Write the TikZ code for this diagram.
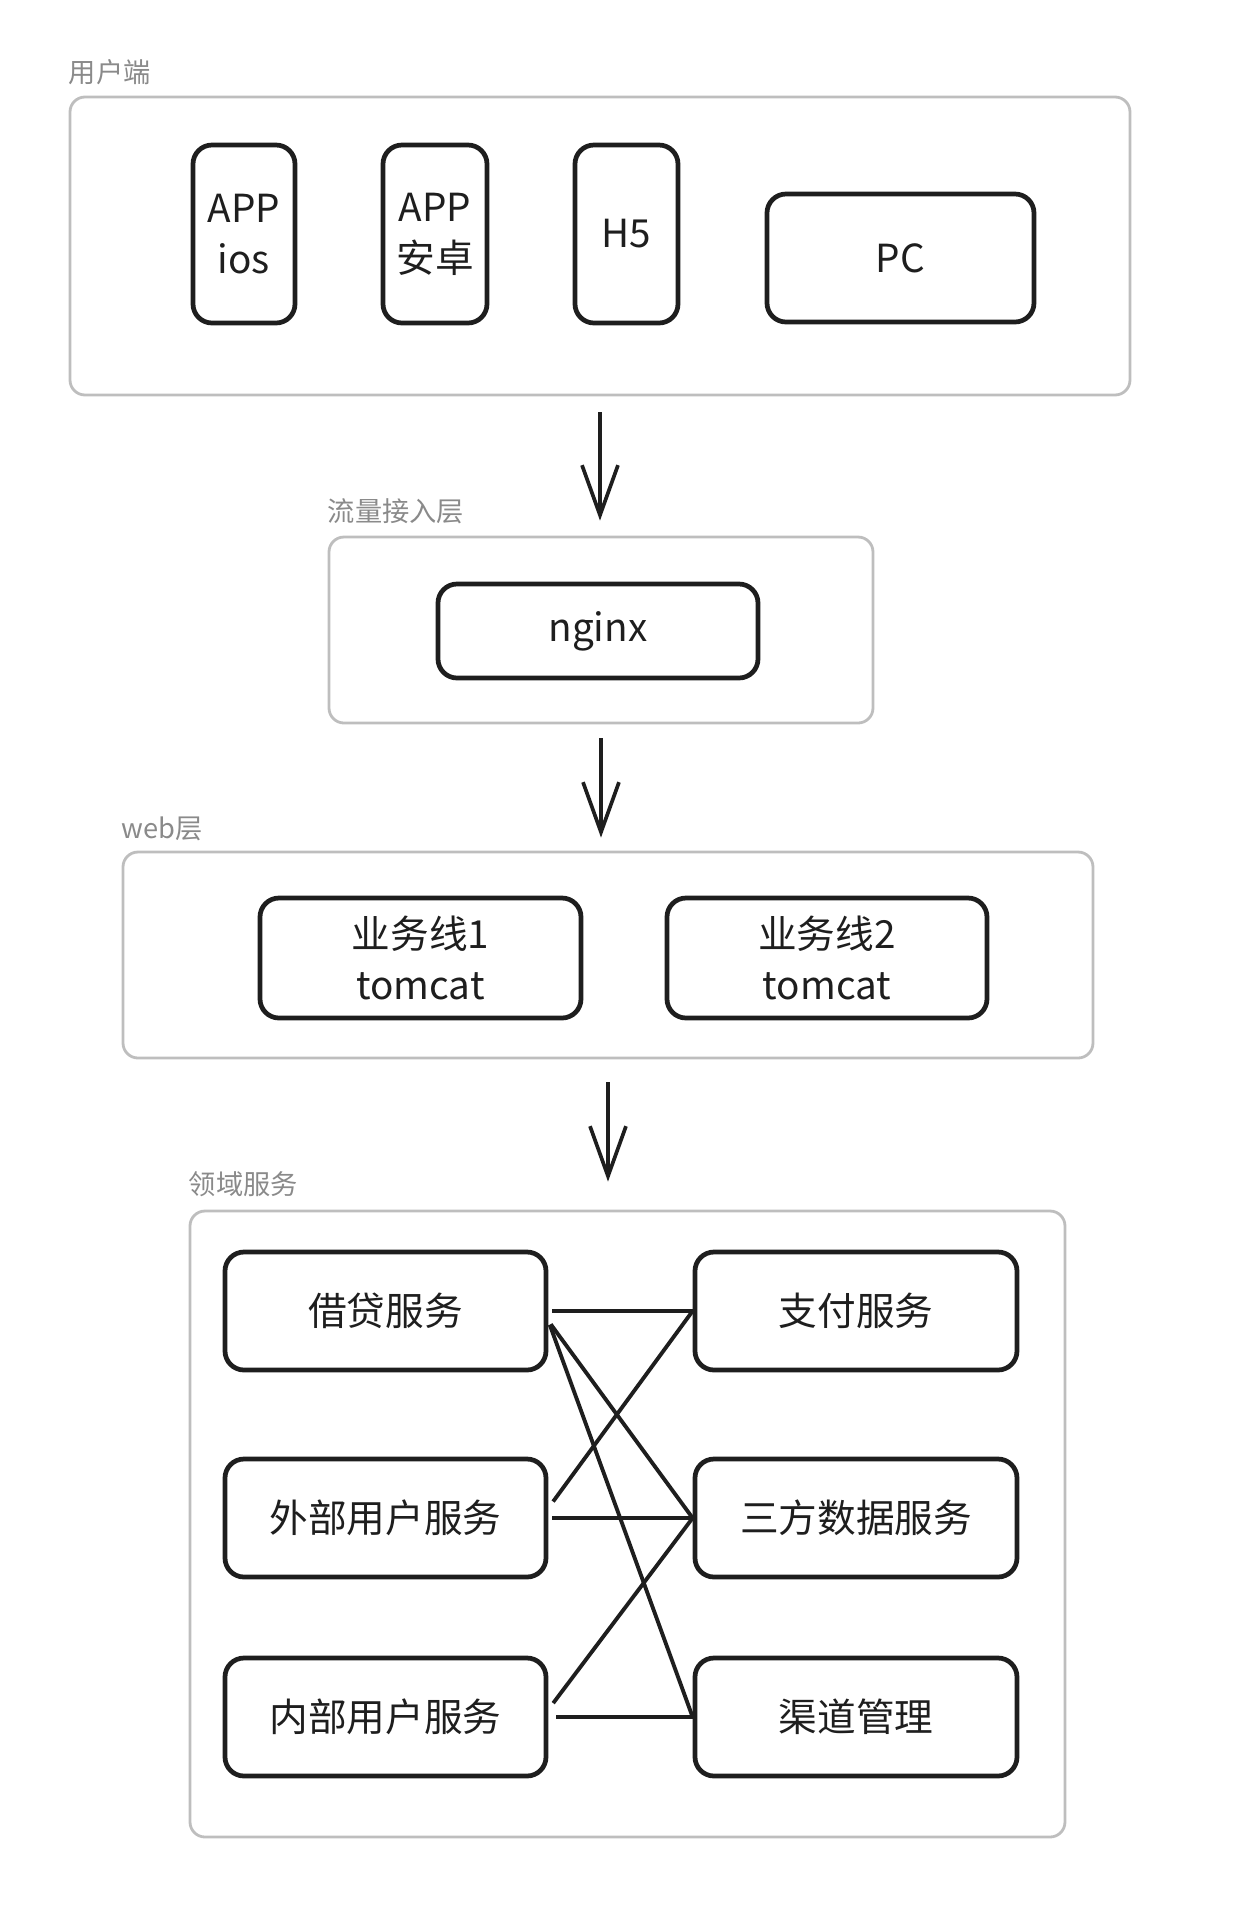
\documentclass[tikz,border=0pt]{standalone}
\usepackage{fontspec}
\setmainfont{Noto Sans CJK SC}
\usepackage{tikz}
\usetikzlibrary{arrows.meta}
\definecolor{framegray}{HTML}{BEBEBE}
\definecolor{labelgray}{HTML}{8A8A8A}
\definecolor{ink}{HTML}{1E1E1E}

\begin{document}
\begin{tikzpicture}[
		groupbox/.style={draw=framegray, line width=1.6pt, rounded corners=0.3cm, inner sep=0pt},
		grouplabel/.style={anchor=west, inner sep=0pt, text=labelgray, font=\fontsize{15.5}{18}\selectfont},
		svcbox/.style={draw=ink, line width=2.7pt, rounded corners=0.38cm, align=center, inner sep=0pt,
			font=\fontsize{22}{29}\selectfont, text=ink},
		flowarrow/.style={draw=ink, line width=2.1pt, -{Straight Barb[length=1cm, width=0.72cm]}},
		link/.style={draw=ink, line width=2.2pt}
	]
		\useasboundingbox (0, 0) rectangle (24.68, -38.52);

		\node[groupbox, minimum width=21.2cm, minimum height=5.96cm] (user) at (12.0, -4.92) {};
		\node[grouplabel] (userlbl) at ([yshift=0.46cm]user.north west) {用户端};
		\node[svcbox, minimum width=2.04cm, minimum height=3.56cm] (ios) at (4.88, -4.68) {APP\\ios};
		\node[svcbox, minimum width=2.08cm, minimum height=3.56cm] (android) at (8.70, -4.68) {APP\\安卓};
		\node[svcbox, minimum width=2.06cm, minimum height=3.56cm] (h5) at (12.53, -4.68) {H5};
		\node[svcbox, minimum width=5.34cm, minimum height=2.56cm] (pc) at (18.01, -5.16) {PC};

		\node[groupbox, minimum width=10.88cm, minimum height=3.72cm] (flow) at (12.02, -12.6) {};
		\node[grouplabel] (flowlbl) at ([yshift=0.48cm]flow.north west) {流量接入层};
		\node[svcbox, minimum width=6.4cm, minimum height=1.88cm] (nginx) at (11.96, -12.62) {nginx};

		\node[groupbox, minimum width=19.4cm, minimum height=4.12cm] (web) at (12.16, -19.1) {};
		\node[grouplabel] (weblbl) at ([yshift=0.44cm]web.north west) {web层};
		\node[svcbox, minimum width=6.42cm, minimum height=2.4cm] (line1) at (8.41, -19.16) {业务线1\\tomcat};
		\node[svcbox, minimum width=6.4cm, minimum height=2.4cm] (line2) at (16.54, -19.16) {业务线2\\tomcat};

		\node[groupbox, minimum width=17.5cm, minimum height=12.52cm] (dom) at (12.55, -30.48) {};
		\node[grouplabel] (domlbl) at ([yshift=0.5cm]dom.north west) {领域服务};
		\node[svcbox, minimum width=6.42cm, minimum height=2.36cm] (loan) at (7.71, -26.22) {借贷服务};
		\node[svcbox, minimum width=6.42cm, minimum height=2.36cm] (extuser) at (7.71, -30.36) {外部用户服务};
		\node[svcbox, minimum width=6.42cm, minimum height=2.36cm] (intuser) at (7.71, -34.34) {内部用户服务};
		\node[svcbox, minimum width=6.44cm, minimum height=2.36cm] (pay) at (17.12, -26.22) {支付服务};
		\node[svcbox, minimum width=6.44cm, minimum height=2.36cm] (thirdparty) at (17.12, -30.36) {三方数据服务};
		\node[svcbox, minimum width=6.44cm, minimum height=2.36cm] (channel) at (17.12, -34.34) {渠道管理};

		\draw[flowarrow, shorten <=0.32cm, shorten >=0.3cm] (user.south) to (user.south |- flow.north);
		\draw[flowarrow, shorten <=0.28cm, shorten >=0.26cm] (flow.south) to (flow.south |- web.north);
		\draw[flowarrow, shorten <=0.46cm, shorten >=0.56cm] (web.south) to (web.south |- dom.north);

		\draw[link, shorten <=0.08cm] (loan.east) to (pay.west);
		\draw[link, shorten <=0.08cm] ([yshift=-0.2cm]loan.east) to (thirdparty.west);
		\draw[link, shorten <=0.08cm] ([yshift=-0.2cm]loan.east) to (channel.west);
		\draw[link, shorten <=0.16cm] ([yshift=0.2cm]extuser.east) to (pay.west);
		\draw[link, shorten <=0.08cm] (extuser.east) to (thirdparty.west);
		\draw[link, shorten <=0.16cm] ([yshift=0.15cm]intuser.east) to (thirdparty.west);
		\draw[link, shorten <=0.16cm] (intuser.east) to (channel.west);
	\end{tikzpicture}
\end{document}
